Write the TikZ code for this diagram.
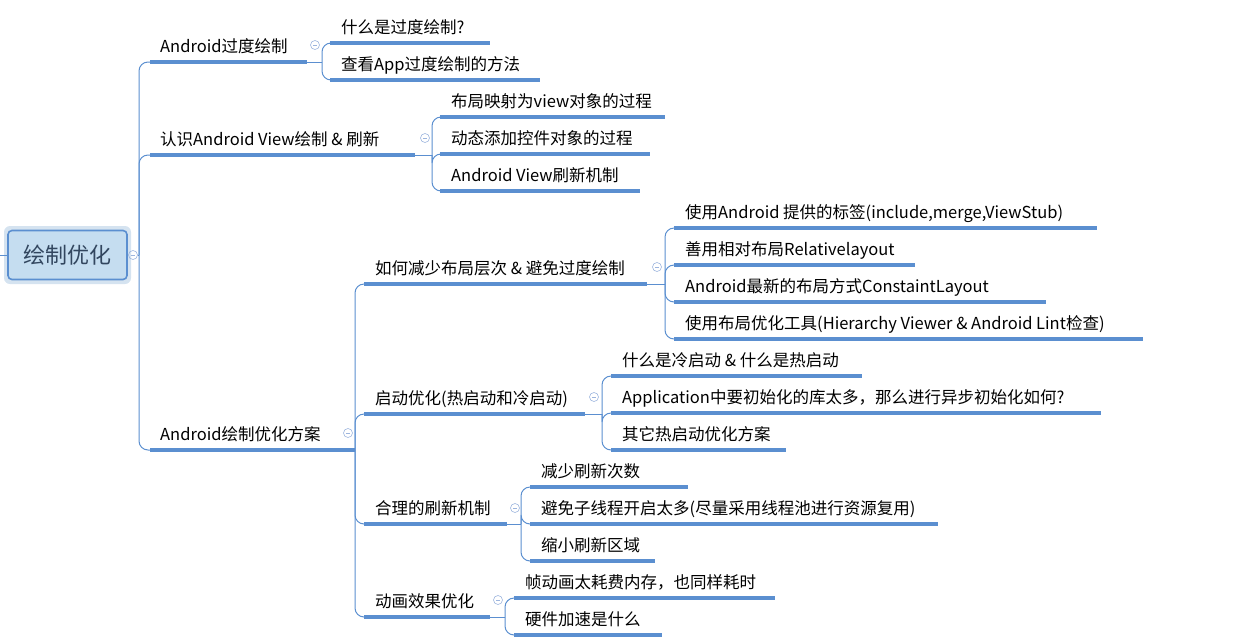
\documentclass[tikz,border=0pt]{standalone}
\usepackage{fontspec}
\setmainfont{Noto Sans CJK SC}
\begin{document}
\begin{tikzpicture}[x=1pt,y=-1pt,
  lab/.style={anchor=base west,inner sep=0,font=\fontsize{16.5}{18}\selectfont},
  tog/.style={circle,draw=tg,line width=0.6pt,minimum size=9pt,inner sep=0,
    path picture={\draw[tg,line width=0.6pt] ([xshift=-2.2pt]path picture bounding box.center)--([xshift=2.2pt]path picture bounding box.center);}}]
\definecolor{lb}{HTML}{5B8FD0}
\definecolor{tg}{HTML}{9DB5DE}
\tikzset{ulstyle/.style={draw=lb,line width=3.4pt},cnstyle/.style={draw=lb,line width=1pt,rounded corners=9pt}}
\useasboundingbox (0,0) rectangle (1235,641);
% root
\fill[fill={rgb,255:red,213;green,227;blue,240},rounded corners=6pt] (4,226) rectangle (131,284);
\node[draw=lb,line width=1.6pt,fill={rgb,255:red,197;green,221;blue,240},rounded corners=4pt,minimum width=119pt,minimum height=49pt,inner sep=0,font=\fontsize{22}{24}\selectfont,text={rgb,255:red,50;green,70;blue,95}] (root) at (67.5,255) {绘制优化};
\coordinate (rl) at (0,255);
\draw[lb,line width=1pt] (rl) -- (root.west);
\node[tog] (rt) at (133,255) {};
\coordinate (rf) at (139,255);
\draw[lb,line width=1pt] (rt.east) -- (rf);
% Level 1
\foreach \n/\tx/\a/\b/\y/\t in {A/160/150/307/62/{Android过度绘制},B/160/150/415/155/{认识Android View绘制 \& 刷新},C/160/150/355/450/{Android绘制优化方案}}{
  \coordinate (\n s) at (\a,\y); \coordinate (\n e) at (\b,\y);
  \draw[cnstyle] (rf) -- (139,\y) -- (\n s);
  \draw[ulstyle] (\n s) -- (\n e);
  \node[lab] (\n t) at (\tx,\y-10) {\t};
}
\node[tog] (At) at (315,45) {};
\node[tog] (Bt) at (425,138) {};
\node[tog] (Ct) at (348,433) {};
\def\branch#1#2#3#4{%
  \coordinate (#1f) at (#2,#3);
  \draw[lb,line width=1pt] (#1e) -- (#1f);
  \foreach \n/\a/\b/\y/\t in {#4}{
    \coordinate (\n s) at (\a,\y); \coordinate (\n e) at (\b,\y);
    \draw[cnstyle] (#1f) -- (#2,\y) -- (\n s);
    \draw[ulstyle] (\n s) -- (\n e);
    \node[lab] (\n t) at (\a+11,\y-10) {\t};
  }
}
\branch{A}{322}{62}{A1/330/490/43/{什么是过度绘制?},A2/330/540/80/{查看App过度绘制的方法}}
\branch{B}{432}{155}{B1/440/665/117/{布局映射为view对象的过程},B2/440/650/154/{动态添加控件对象的过程},B3/440/640/191/{Android View刷新机制}}
\branch{C}{355}{450}{C1/364/647/284/{如何减少布局层次 \& 避免过度绘制},C2/364/585/414/{启动优化(热启动和冷启动)},C3/364/507/524/{合理的刷新机制},C4/364/490/617/{动画效果优化}}
\node[tog] (C1t) at (657,267) {};
\node[tog] (C2t) at (594,397) {};
\node[tog] (C3t) at (515,508) {};
\node[tog] (C4t) at (498,600) {};
\branch{C1}{665}{284}{D1/674/1097/228/{使用Android 提供的标签(include,merge,ViewStub)},D2/674/915/265/{善用相对布局Relativelayout},D3/674/1046/302/{Android最新的布局方式ConstaintLayout},D4/674/1143/339/{使用布局优化工具(Hierarchy Viewer \& Android Lint检查)}}
\branch{C2}{602}{414}{E1/611/862/376/{什么是冷启动 \& 什么是热启动},E2/611/1101/413/{Application中要初始化的库太多，那么进行异步初始化如何?},E3/611/786/450/{其它热启动优化方案}}
\branch{C3}{521}{524}{F1/530/688/487/{减少刷新次数},F2/530/938/524/{避免子线程开启太多(尽量采用线程池进行资源复用)},F3/530/655/561/{缩小刷新区域}}
\branch{C4}{505}{617}{G1/514/775/598/{帧动画太耗费内存，也同样耗时},G2/514/662/635/{硬件加速是什么}}
\end{tikzpicture}
\end{document}
